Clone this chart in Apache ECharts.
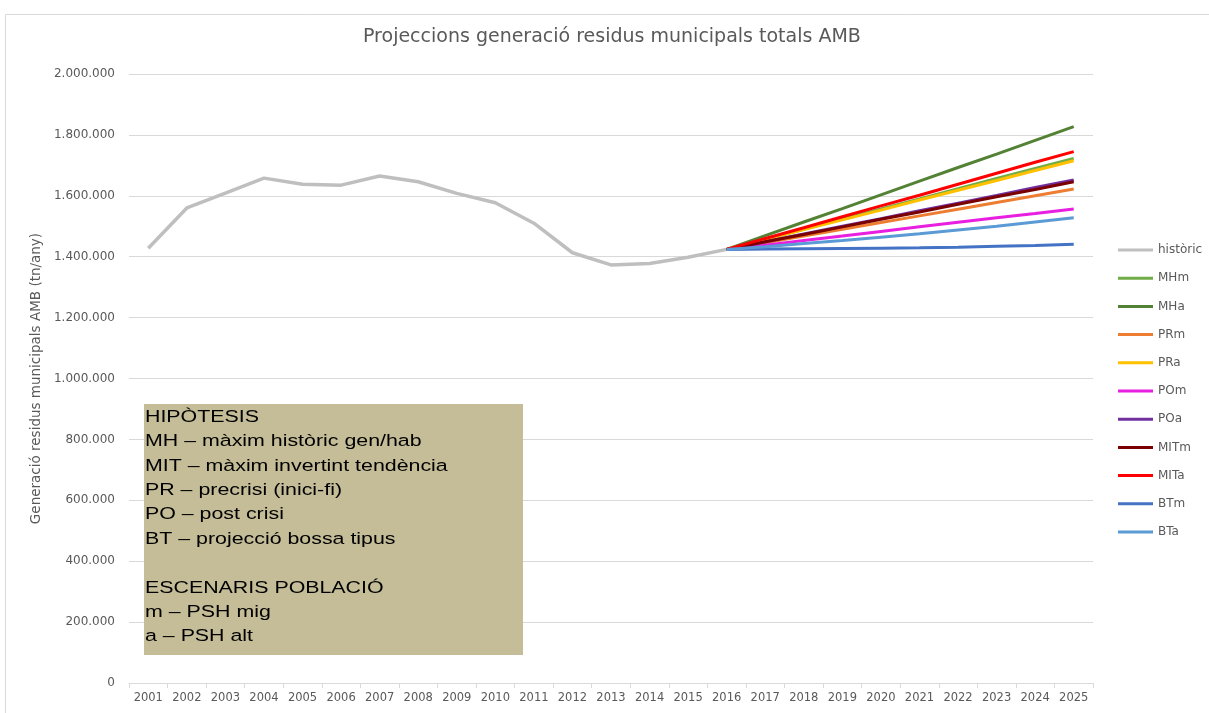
<!DOCTYPE html>
<html>
<head>
<meta charset="utf-8">
<script src="https://cdn.jsdelivr.net/npm/echarts@6/dist/echarts.min.js"></script>
<style>
html, body { margin: 0; padding: 0; background: #fff; }
#chart { width: 1209px; height: 713px; }
</style>
</head>
<body>
<div id="chart"></div>
<script>
// anys
var years = ['2001','2002','2003','2004','2005','2006','2007','2008','2009','2010','2011','2012','2013',
	'2014','2015','2016','2017','2018','2019','2020','2021','2022','2023','2024','2025'];

// historic 2001-2016 (tn/any)
var historic = [1428000,1560000,1609000,1658000,1638000,1635000,1665000,1646000,1608000,1577000,
	1510000,1413000,1373000,1378000,1398000,1424000,null,null,null,null,null,null,null,null,null];

// projeccions 2016-2025
var MHm  = [1424000,1457000,1490000,1524000,1557000,1590000,1623000,1657000,1690000,1723000];
var MHa  = [1424000,1469000,1514000,1558000,1603000,1648000,1693000,1737000,1782000,1827000];
var PRm  = [1424000,1446000,1468000,1490000,1512000,1534000,1556000,1578000,1600000,1622000];
var PRa  = [1424000,1456000,1489000,1521000,1553000,1586000,1618000,1650000,1683000,1715000];
var POm  = [1424000,1438000,1453000,1468000,1483000,1498000,1513000,1528000,1542000,1557000];
var POa  = [1424000,1449000,1475000,1500000,1525000,1551000,1576000,1601000,1627000,1652000];
var MITm = [1424000,1449000,1473000,1498000,1523000,1547000,1572000,1597000,1621000,1646000];
var MITa = [1424000,1460000,1495000,1531000,1567000,1602000,1638000,1674000,1710000,1745000];
var BTm  = [1424000,1425000,1426000,1427000,1428000,1429000,1431000,1434000,1437000,1441000];
var BTa  = [1424000,1433000,1443000,1453000,1464000,1475000,1488000,1500000,1514000,1528000];

var names  = ['MHm','MHa','PRm','PRa','POm','POa','MITm','MITa','BTm','BTa'];
var values = [MHm, MHa, PRm, PRa, POm, POa, MITm, MITa, BTm, BTa];
var colors = ['#70ad47','#548235','#ed7d31','#ffc000','#e81ee0','#7030a0','#7b0000','#ff0000','#4472c4','#5b9bd5'];

var boxLines = [
	'HIPÒTESIS',
	'MH – màxim històric gen/hab',
	'MIT – màxim invertint tendència',
	'PR – precrisi (inici-fi)',
	'PO – post crisi',
	'BT – projecció bossa tipus',
	'',
	'ESCENARIS POBLACIÓ',
	'm – PSH mig',
	'a – PSH alt'
];

function pad(v) {
	var out = [];
	for (var i = 0; i < 15; i++) out.push(null);
	return out.concat(v);
}

function fmt(v) {
	return String(v).replace(/\B(?=(\d{3})+(?!\d))/g, '.');
}

var series = [{
	name : 'històric',
	type : 'line',
	data : historic,
	symbol : 'none',
	lineStyle : { color : '#bfbfbf', width : 3.5 },
	itemStyle : { color : '#bfbfbf' }
}];
for (var i = 0; i < names.length; i++) {
	series.push({
		name : names[i],
		type : 'line',
		data : pad(values[i]),
		symbol : 'none',
		lineStyle : { color : colors[i], width : 3 },
		itemStyle : { color : colors[i] }
	});
}

var myChart = echarts.init(document.getElementById('chart'));
var option = {
	animation : false,
	title : {
		text : 'Projeccions generació residus municipals totals AMB',
		left : 363,
		top : 28,
		padding : 0,
		textStyle : {
			fontFamily : 'DejaVu Sans',
			fontSize : 19,
			fontWeight : 'normal',
			color : '#595959'
		}
	},
	legend : {
		orient : 'vertical',
		left : 1118,
		top : 244,
		padding : 0,
		icon : 'rect',
		itemWidth : 35,
		itemHeight : 3,
		itemGap : 16.2,
		textStyle : { fontFamily : 'DejaVu Sans', fontSize : 12, color : '#595959' },
		data : ['històric'].concat(names)
	},
	grid : {
		left : 129,
		right : 116,
		top : 74,
		bottom : 30
	},
	xAxis : {
		type : 'category',
		data : years,
		boundaryGap : true,
		axisLine : { lineStyle : { color : '#d9d9d9', width : 1 } },
		axisTick : { show : true, length : 5, lineStyle : { color : '#d9d9d9' } },
		axisLabel : { fontFamily : 'DejaVu Sans', fontSize : 11.5, color : '#595959', margin : 9 }
	},
	yAxis : {
		type : 'value',
		min : 0,
		max : 2000000,
		interval : 200000,
		name : 'Generació residus municipals AMB (tn/any)',
		nameLocation : 'middle',
		nameGap : 74,
		nameTextStyle : { fontFamily : 'DejaVu Sans', fontSize : 13.5, color : '#595959' },
		axisLine : { show : false },
		axisTick : { show : false },
		splitLine : { lineStyle : { color : '#d9d9d9', width : 1 } },
		axisLabel : {
			fontFamily : 'DejaVu Sans',
			fontSize : 12,
			color : '#595959',
			margin : 14,
			formatter : function(v) { return fmt(v); }
		}
	},
	graphic : [{
		type : 'rect',
		left : 3,
		top : 12,
		z : -10,
		shape : { width : 1240, height : 740 },
		style : { fill : 'none', stroke : '#d9d9d9', lineWidth : 1 },
		silent : true
	}, {
		type : 'rect',
		left : 144,
		top : 404,
		z : 100,
		shape : { width : 379, height : 251 },
		style : { fill : '#c4bd97' }
	}, {
		type : 'text',
		left : 145,
		top : 405,
		z : 101,
		scaleX : 1.28,
		style : {
			text : boxLines.join('\n'),
			fontFamily : 'Liberation Sans',
			fontSize : 16.7,
			lineHeight : 24.4,
			fill : '#000'
		}
	}],
	series : series
};
myChart.setOption(option);
</script>
</body>
</html>
